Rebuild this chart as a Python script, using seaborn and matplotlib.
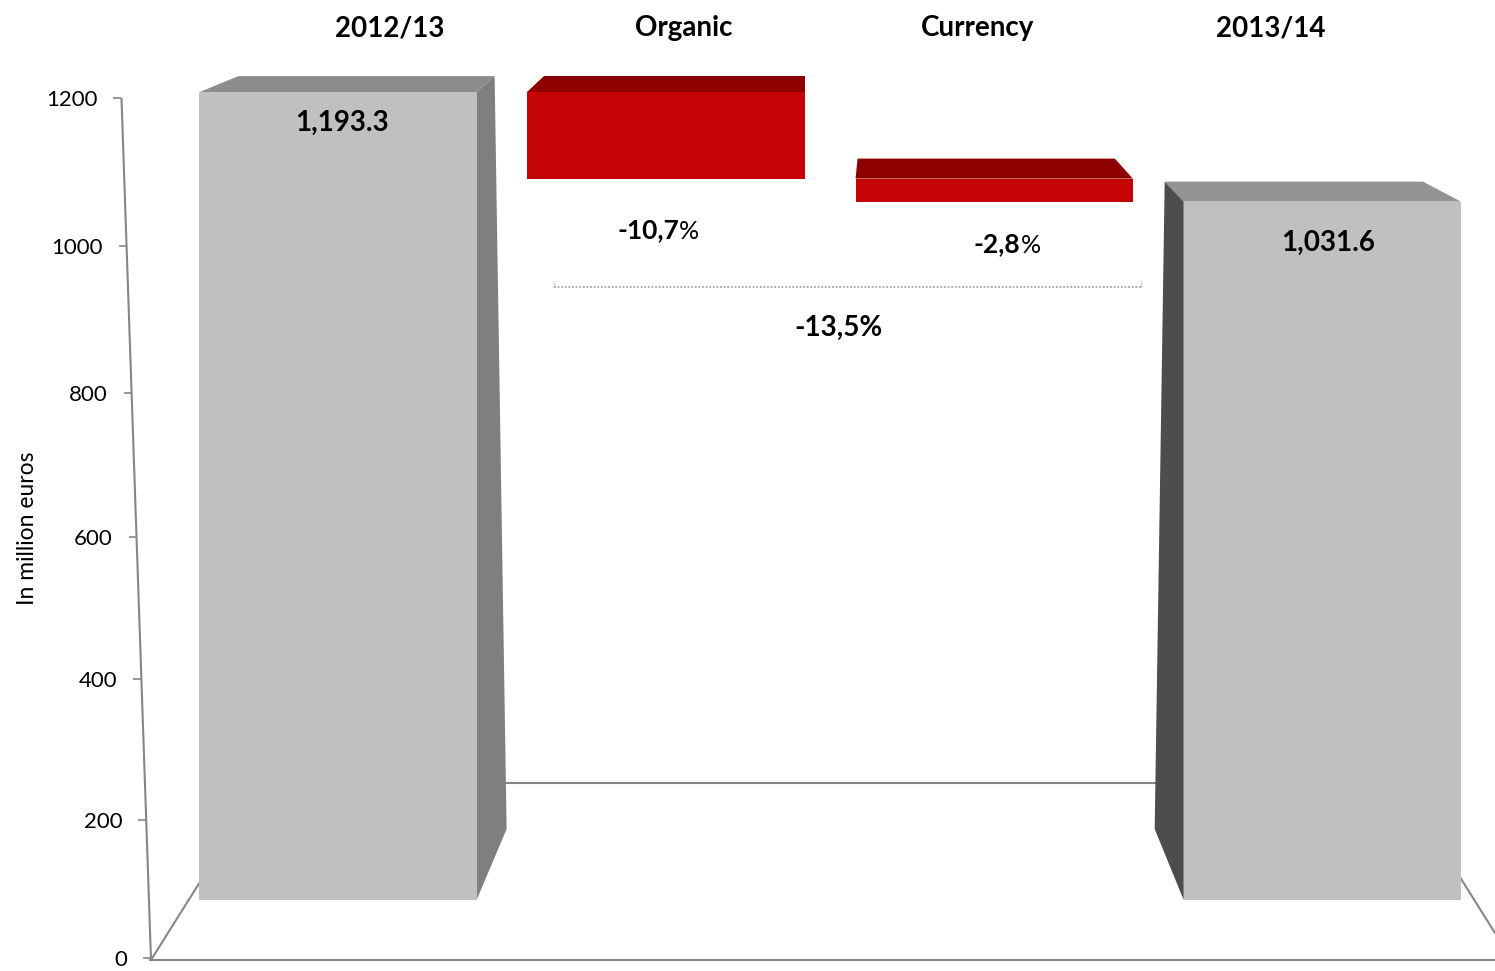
import numpy as np
import pandas as pd
import matplotlib
matplotlib.use("Agg")
import matplotlib.pyplot as plt
import seaborn as sns
from matplotlib.patches import Polygon
from matplotlib.transforms import ScaledTranslation

# ---------------- data ----------------
categories = ["2012/13", "Organic", "Currency", "2013/14"]
values = [1193.3, -127.7, -34.0, 1031.6]
kinds = ["total", "delta", "delta", "total"]
pct_labels = ["", "-10,7", "-2,8", ""]
total_change_label = "-13,5%"
yticks = [0, 200, 400, 600, 800, 1000, 1200]
ylabel = "In million euros"

# ---------------- style ----------------
sns.set_style("white")
plt.rcParams["font.family"] = ["Lato", "DejaVu Sans"]

W, H = 1495, 971
fig = plt.figure(figsize=(W / 100, H / 100), dpi=100)
fig.patch.set_facecolor("white")

GRID = "#868686"
front_colors = ["#c0c0c0", "#c40404", "#c40404", "#c0c0c0"]
top_colors = ["#8c8c8c", "#8c0000", "#8c0000", "#939393"]
side_colors = ["#7f7f7f", None, None, "#4d4d4d"]
# top-face offsets (pixels): back-left dx, back-right dx, dy (image, up negative)
top_depth = [(39, 18, -16), (17, 0, -16), (2, -18, -20), (-19, -38, -20)]
# side face: which side, top-back dx, bottom-back dx, bottom-back dy
side_depth = [("right", 18, 30, -71), None, None, ("left", -19, -29, -71)]
value_label_off = [(4, -31), None, None, (6, -41)]
pct_label_off = [None, (-18, -52), (3, -43), None]

# ---------------- waterfall geometry from data ----------------
bottoms, heights = [], []
running = 0.0
for v, k in zip(values, kinds):
    if k == "total":
        bottoms.append(0.0)
        heights.append(v)
        running = v
    else:
        new = running + v
        bottoms.append(min(running, new))
        heights.append(abs(v))
        running = new

# ---------------- decoration axes (pixel space) ----------------
deco = fig.add_axes([0, 0, 1, 1], zorder=0)
deco.set_xlim(0, W)
deco.set_ylim(H, 0)
deco.set_axis_off()
lw = 1.5
deco.plot([121.5, 151], [98, 960], color=GRID, lw=lw, solid_capstyle="butt")
deco.plot([151, 215], [960, 858], color=GRID, lw=lw)
deco.plot([490, 1170], [783, 783], color=GRID, lw=lw)
deco.plot([1448, 1495], [858, 933], color=GRID, lw=lw)
# bracket for total change
deco.plot([554, 1141], [287, 287], color="#a6a6a6", lw=1.3, ls=(0, (1, 1)))
deco.plot([554, 554], [287, 281], color="#a6a6a6", lw=1.0, ls=(0, (1, 1)))
deco.plot([1141, 1141], [287, 281], color="#a6a6a6", lw=1.0, ls=(0, (1, 1)))
deco.text(839, 328, total_change_label, ha="center", va="center",
          fontsize=20, fontweight="bold", color="black")

# ---------------- front category axis (floor edge) ----------------
axf = fig.add_axes([150 / W, (H - 960) / H, 1360 / W, 0.02], zorder=0.5)
axf.set_xlim(0, 4)
axf.set_ylim(0, 1)
axf.patch.set_alpha(0)
for s in ["top", "left", "right"]:
    axf.spines[s].set_visible(False)
axf.spines["bottom"].set_color(GRID)
axf.spines["bottom"].set_linewidth(lw)
axf.set_xticks([0, 1, 2, 3], labels=[""] * 4)
axf.set_yticks([])
axf.tick_params(axis="x", direction="out", length=6, width=1.2, color=GRID)

# ---------------- back wall axes: value scale (perspective) + category titles ----------------
b_, c_ = -0.72002, -3.417e-5


def fwd(v):
    v = np.asarray(v, dtype=float)
    return 958.0 - (958.0 + b_ * v) / (1.0 + c_ * v)


def inv(h):
    h = np.asarray(h, dtype=float)
    p = 958.0 - h
    return -h / (b_ - p * c_)


wall_left, wall_right = 121.5, W
axw = fig.add_axes([wall_left / W, (H - 958) / H, (wall_right - wall_left) / W, 860 / H], zorder=1)
axw.patch.set_alpha(0)
axw.set_yscale("function", functions=(fwd, inv))
axw.set_ylim(0, 1200)
cat_x0, cat_dx = 390.0, 293.7
axw.set_xlim((wall_left - cat_x0) / cat_dx, (wall_right - cat_x0) / cat_dx)
for s in axw.spines.values():
    s.set_visible(False)
axw.set_yticks(yticks, labels=[str(t) for t in yticks])
axw.tick_params(axis="y", left=True, length=5.8, width=1.2, color=GRID,
                labelsize=16, pad=11.5, labelcolor="black")
axw.xaxis.tick_top()
axw.set_xticks(range(len(categories)), labels=categories)
axw.tick_params(axis="x", top=True, bottom=False, length=0, pad=41,
                labelsize=20, labelcolor="black")
for lab in axw.get_xticklabels():
    lab.set_fontweight("bold")
axw.set_ylabel(ylabel, fontsize=16.5, color="black")
axw.yaxis.set_label_coords((38 - wall_left) / (wall_right - wall_left), 0.5)

# slant the y ticks along the perspective axis line
for tick, v in zip(axw.yaxis.get_major_ticks(), yticks):
    p = 958.0 - float(fwd(v))
    x_axis = 121.5 + (p - 98) * (151 - 121.5) / (960 - 98)
    off = ScaledTranslation((x_axis - wall_left) / 100.0, 0, fig.dpi_scale_trans)
    tick.tick1line.set_transform(tick.tick1line.get_transform() + off)
    tick.label1.set_transform(tick.label1.get_transform() + off)

# ---------------- bar (front plane) axes ----------------
c0, step = 338.0, 328.1
x_lo, x_hi = c0 - 0.5 * step, c0 + 3.5 * step
px_per_unit = 0.677
ax = fig.add_axes([x_lo / W, (H - 900) / H, (x_hi - x_lo) / W, 900 / H], zorder=2)
bar_w = 0.845
for i, cat in enumerate(categories):
    sns.barplot(x=[cat], y=[heights[i]], order=categories, bottom=bottoms[i],
                color=front_colors[i], saturation=1, width=bar_w, errorbar=None,
                linewidth=0, ax=ax, zorder=3)
ax.set_xlim(-0.5, 3.5)
ax.set_ylim(0, 900 / px_per_unit)
ax.set_axis_off()


def poly(corners, color):
    pts = []
    for (xd, yd), (dx, dy) in corners:
        X, Y = ax.transData.transform((xd, yd))
        pts.append(ax.transData.inverted().transform((X + dx, Y - dy)))
    ax.add_patch(Polygon(pts, closed=True, facecolor=color, edgecolor="none", zorder=2))


half = bar_w / 2
for i in range(len(categories)):
    L, R = i - half, i + half
    B, T = bottoms[i], bottoms[i] + heights[i]
    bl, br, dy = top_depth[i]
    poly([((L, T), (0, 0)), ((R, T), (0, 0)), ((R, T), (br, dy)), ((L, T), (bl, dy))], top_colors[i])
    sd = side_depth[i]
    if sd is not None:
        side, tdx, bdx, bdy = sd
        E = R if side == "right" else L
        poly([((E, T), (0, 0)), ((E, T), (tdx, dy)), ((E, B), (bdx, bdy)), ((E, B), (0, 0))], side_colors[i])

# value labels on totals
for i in range(len(categories)):
    if kinds[i] == "total":
        dx, dy = value_label_off[i]
        ax.annotate(f"{values[i]:,.1f}", xy=(i, bottoms[i] + heights[i]), xytext=(dx, dy),
                    textcoords="offset pixels", ha="center", va="center",
                    fontsize=20, fontweight="bold", color="black", zorder=5)

# percentage labels under deltas
for i in range(len(categories)):
    if kinds[i] == "delta":
        dx, dy = pct_label_off[i]
        t = ax.annotate(pct_labels[i], xy=(i, bottoms[i]), xytext=(dx, dy),
                        textcoords="offset pixels", ha="center", va="center",
                        fontsize=19, fontweight="bold", color="black", zorder=5)
        ax.annotate("%", xy=(1, 0), xycoords=t, ha="left", va="bottom",
                    fontsize=18, color="black", zorder=5)

fig.savefig("out.png", dpi=100)
